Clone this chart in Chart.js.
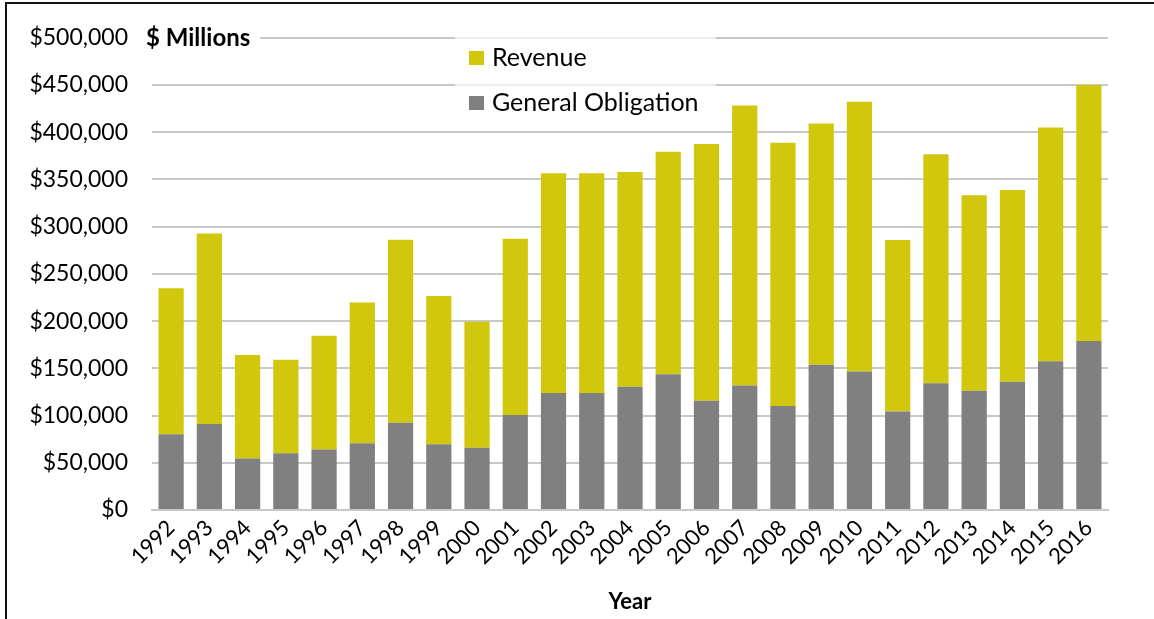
<!DOCTYPE html>
<html>
<head>
<meta charset="utf-8">
<script src="https://cdn.jsdelivr.net/npm/chart.js@4.4.1/dist/chart.umd.min.js"></script>
<style>
  html, body { margin: 0; padding: 0; background: #fff; }
  #wrap { position: relative; width: 1154px; height: 619px; overflow: hidden; }
  #frame { position: absolute; left: 5px; top: 2px; width: 1200px; height: 700px;
           border-top: 2px solid #111; border-left: 2px solid #111; pointer-events: none; }
</style>
</head>
<body>
<div id="wrap">
  <canvas id="chart" width="1154" height="619"></canvas>
  <div id="frame"></div>
</div>
<script>
// Bond issuance by type, $ millions
const years = ['1992','1993','1994','1995','1996','1997','1998','1999','2000','2001','2002','2003',
  '2004','2005','2006','2007','2008','2009','2010','2011','2012','2013','2014','2015','2016'];

const generalObligation = [80200, 91000, 54500, 60100, 64000, 70700, 92500, 69600, 65800, 100600,
  123800, 123800, 130500, 143800, 115700, 131900, 110100, 153700, 146600, 104400,
  134300, 126200, 135700, 157600, 179000];

const revenue = [154700, 201900, 109700, 98900, 120600, 149100, 193700, 156900, 133600, 186700,
  232800, 232800, 227400, 235600, 271800, 296400, 278800, 255600, 285600, 181500,
  242300, 207100, 203200, 247500, 271100];

const FONT = 'Lato';
const YELLOW = '#d1c70d';
const GRAY = '#808080';

// "$ Millions" label and the in-plot legend (Excel style)
const overlayPlugin = {
  id: 'overlay',
  afterDatasetsDraw(chart) {
    const ctx = chart.ctx;
    const area = chart.chartArea;
    const yTop = chart.scales.y.getPixelForValue(500000);
    ctx.save();

    // unit label over top gridline
    ctx.fillStyle = '#ffffff';
    ctx.fillRect(area.left - 4, yTop - 12, 112, 24);
    ctx.fillStyle = '#000000';
    ctx.font = 'bold 24px ' + FONT;
    ctx.textBaseline = 'middle';
    ctx.textAlign = 'left';
    ctx.fillText('$ Millions', area.left - 6, yTop);

    // legend box
    ctx.fillStyle = 'rgba(255,255,255,0.65)';
    ctx.fillRect(455, 28, 261, 92);
    const items = chart.data.datasets.slice().reverse();
    items.forEach((ds, i) => {
      const cy = 58 + i * 45;
      ctx.fillStyle = ds.backgroundColor;
      ctx.fillRect(469, cy - 7, 15, 14);
      ctx.fillStyle = '#000000';
      ctx.font = '25px ' + FONT;
      ctx.fillText(ds.label, 492, cy);
    });
    ctx.restore();
  }
};

new Chart(document.getElementById('chart').getContext('2d'), {
  type: 'bar',
  data: {
    labels: years,
    datasets: [
      {
        label: 'General Obligation',
        data: generalObligation,
        backgroundColor: GRAY,
        borderWidth: 0,
        barPercentage: 0.66,
        categoryPercentage: 1
      },
      {
        label: 'Revenue',
        data: revenue,
        backgroundColor: YELLOW,
        borderWidth: 0,
        barPercentage: 0.66,
        categoryPercentage: 1
      }
    ]
  },
  options: {
    responsive: false,
    animation: false,
    layout: { padding: { top: 36, right: 46, bottom: 0, left: 0 } },
    plugins: {
      legend: { display: false },
      tooltip: { enabled: false }
    },
    scales: {
      x: {
        stacked: true,
        grid: { display: false, drawTicks: false },
        border: { display: true, color: '#c8c8c8', width: 2 },
        ticks: {
          color: '#000',
          font: { family: FONT, size: 22 },
          minRotation: 45,
          maxRotation: 45,
          autoSkip: false,
          padding: 5
        },
        title: {
          display: true,
          text: 'Year',
          color: '#000',
          font: { family: FONT, size: 22, weight: 'bold' },
          padding: { top: 0, bottom: 4 }
        },
        afterFit: scale => { scale.height = 109; }
      },
      y: {
        stacked: true,
        min: 0,
        max: 500000,
        grid: { color: '#c8c8c8', lineWidth: 2, drawTicks: false },
        border: { display: false },
        ticks: {
          stepSize: 50000,
          color: '#000',
          padding: 24,
          font: { family: FONT, size: 23 },
          callback: v => '$' + v.toLocaleString('en-US')
        },
        afterFit: scale => { scale.width = 152; }
      }
    }
  },
  plugins: [overlayPlugin]
});
</script>
</body>
</html>
